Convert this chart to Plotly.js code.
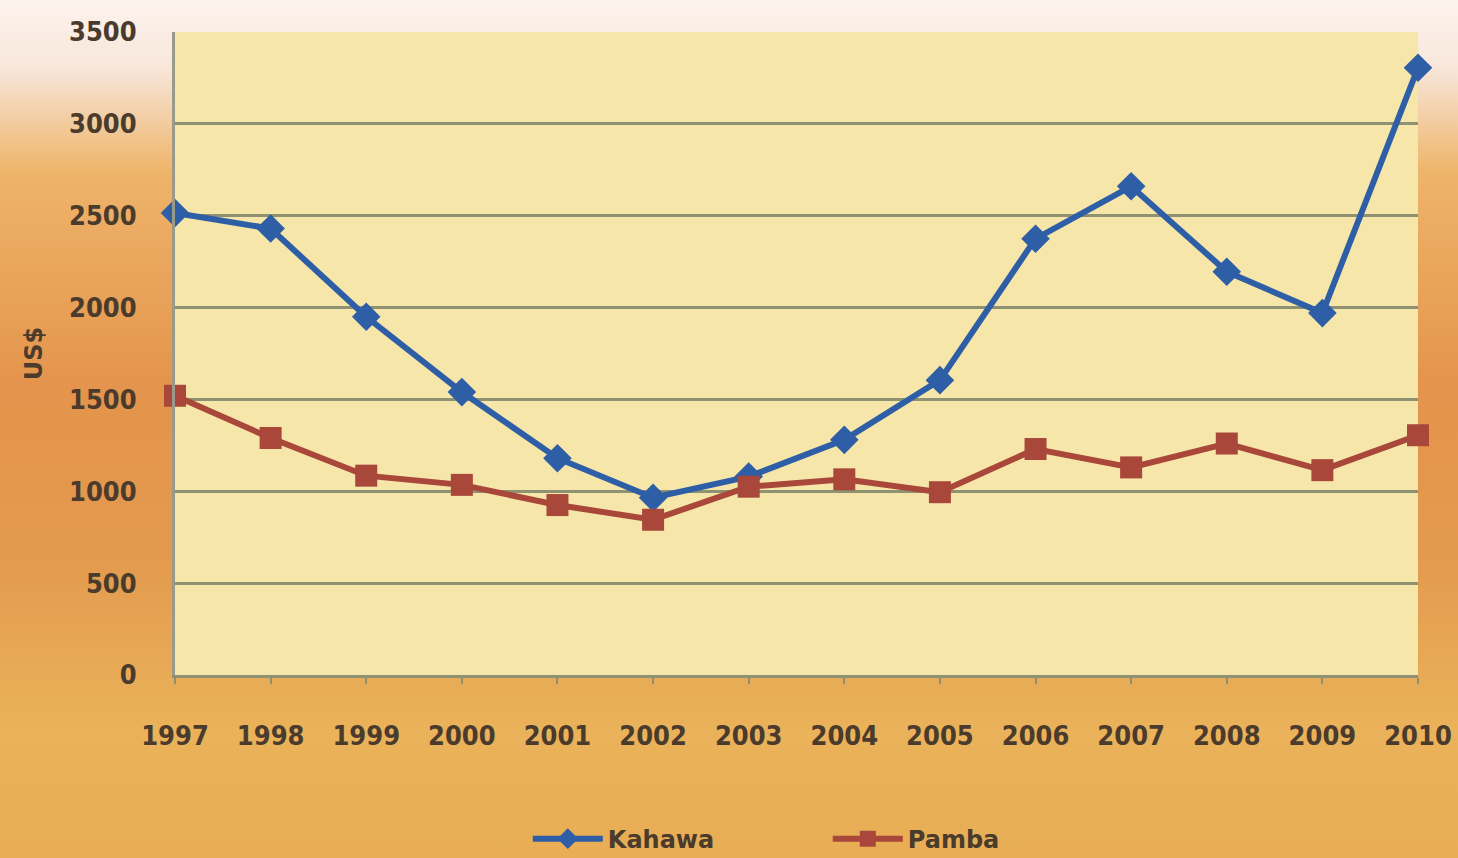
<!DOCTYPE html>
<html>
<head>
<meta charset="utf-8">
<script src="https://cdn.plot.ly/plotly-3.0.1.min.js"></script>
<style>
html,body{margin:0;padding:0;width:1458px;height:858px;overflow:hidden;
background:linear-gradient(180deg,#fdf3ee 0%,#f8e6da 8%,#eeb46a 20%,#e4944c 45%,#e39a4e 65%,#eab25a 85%,#e8ad55 100%);}
#chart{width:1458px;height:858px;}
</style>
</head>
<body>
<div id="chart"></div>
<script>
const years = ['1997','1998','1999','2000','2001','2002','2003','2004','2005','2006','2007','2008','2009','2010'];
const kahawa = [2515, 2430, 1950, 1540, 1180, 965, 1080, 1280, 1605, 2375, 2660, 2195, 1970, 3305];
const pamba = [1520, 1290, 1085, 1035, 925, 845, 1025, 1065, 995, 1230, 1130, 1260, 1115, 1305];
const yTicks = [0, 500, 1000, 1500, 2000, 2500, 3000, 3500];

const tickFont = {family: '"Liberation Sans Narrow", "DejaVu Sans Condensed", Arial, sans-serif', size: 27, color: '#4a3b2c', weight: 'bold'};

const data = [
  {x: years, y: kahawa, name: 'Kahawa', type: 'scatter', mode: 'lines+markers',
   line: {color: '#2e5ea6', width: 6},
   marker: {symbol: 'diamond', size: 22, color: '#2e5ea6'},
   cliponaxis: false},
  {x: years, y: pamba, name: 'Pamba', type: 'scatter', mode: 'lines+markers',
   line: {color: '#a9473a', width: 6},
   marker: {symbol: 'square', size: 22, color: '#a9473a'},
   cliponaxis: false}
];

const layout = {
  width: 1458, height: 858,
  paper_bgcolor: 'rgba(0,0,0,0)',
  plot_bgcolor: '#f6e6aa',
  margin: {l: 175, r: 40, t: 32, b: 183, autoexpand: false},
  showlegend: true,
  legend: {orientation: 'h', xref: 'container', yref: 'container', x: 0.362, xanchor: 'left', y: 0.022, yanchor: 'middle',
    font: {family: '"DejaVu Sans", sans-serif', size: 24, color: '#4a3b2c', weight: 'bold'},
    bgcolor: 'rgba(0,0,0,0)', itemwidth: 70, entrywidth: 215, entrywidthmode: 'pixels'},
  xaxis: {type: 'category', range: [0, 13], tickvals: years, ticktext: years,
    tickfont: tickFont, showgrid: false, showline: true, linecolor: '#8f9072', linewidth: 3,
    ticks: 'outside', tickcolor: '#8f9072', ticklen: 6, tickwidth: 2, zeroline: false, ticklabelstandoff: 29},
  yaxis: {range: [0, 3500], tickvals: yTicks, ticktext: yTicks.map(String),
    tickfont: tickFont, showgrid: true, gridcolor: '#8f9272', gridwidth: 3,
    showline: true, linecolor: '#9a9a8a', linewidth: 3, zeroline: false, ticklabelstandoff: 30,
    title: {text: 'US$', font: {family: '"DejaVu Sans", sans-serif', size: 24, color: '#4a3b2c', weight: 'bold'}, standoff: 20}}
};

Plotly.newPlot('chart', data, layout, {displayModeBar: false, staticPlot: true});
</script>
</body>
</html>
